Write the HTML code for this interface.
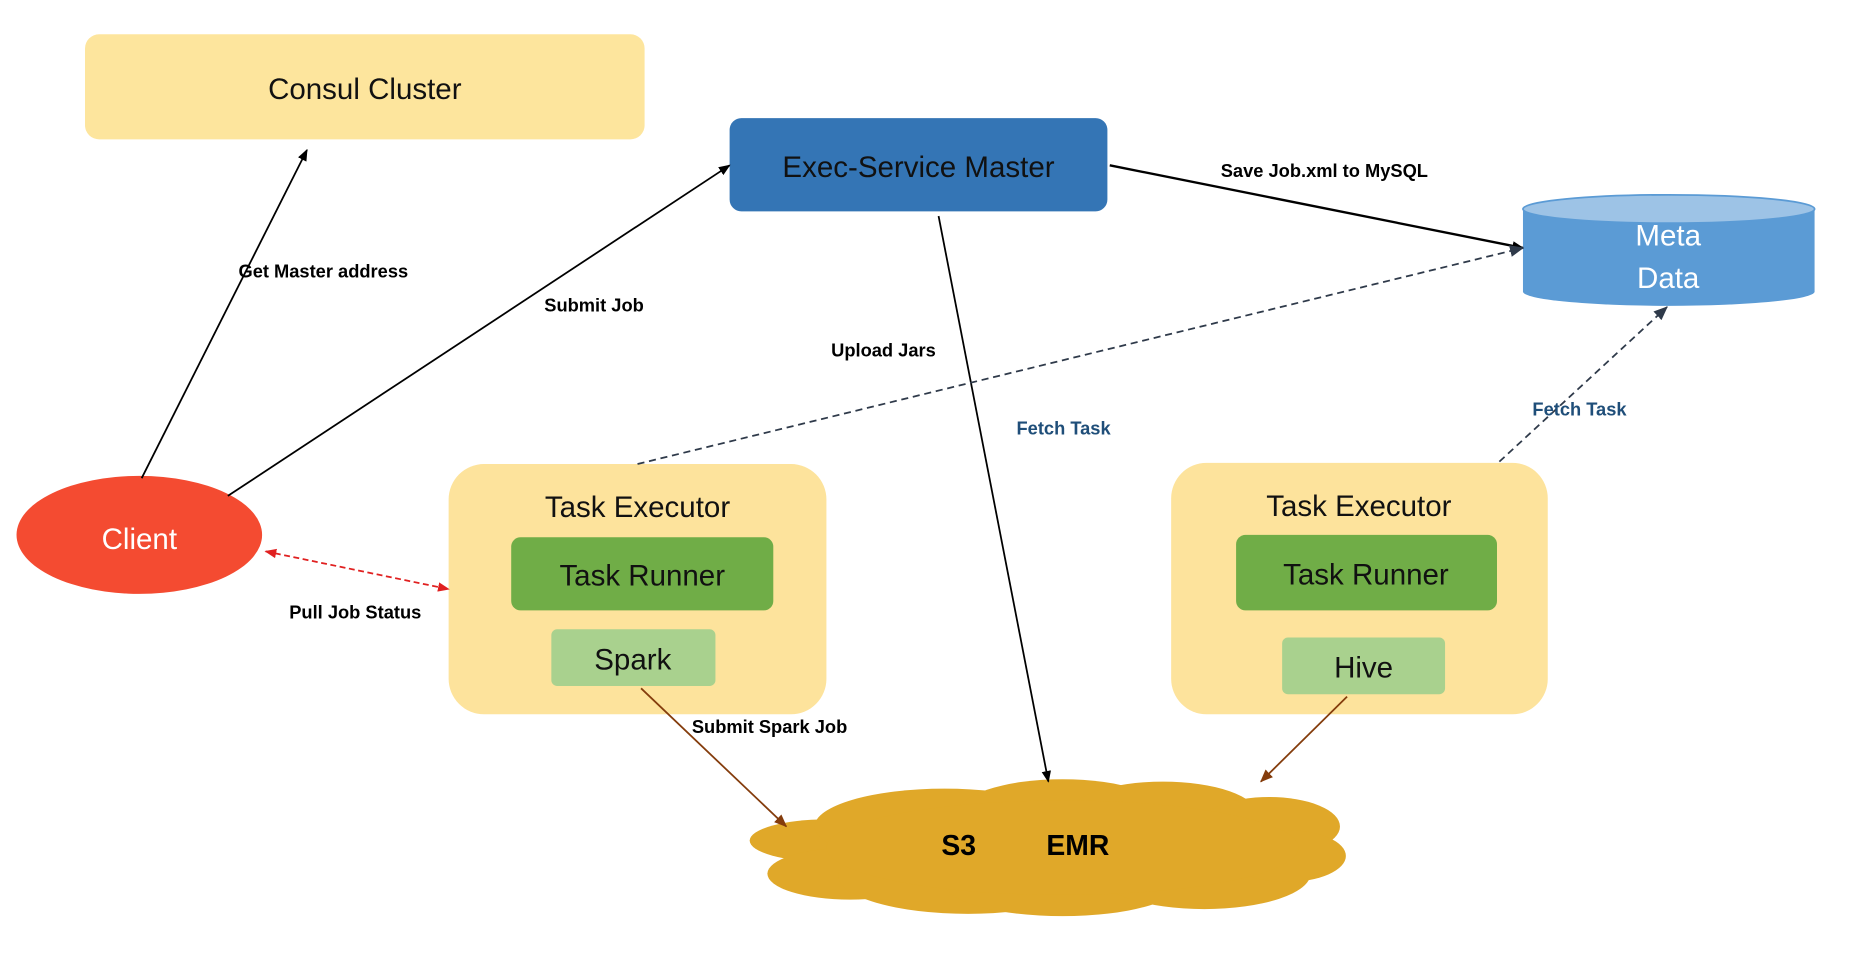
<!DOCTYPE html>
<html><head><meta charset="utf-8"><style>
html,body{margin:0;padding:0;background:#fff;width:1850px;height:954px;overflow:hidden}
svg{display:block}
text{font-family:"Liberation Sans",sans-serif}
.b{font-weight:bold;font-size:15.5px;fill:#000}
.t{font-size:25px;fill:#111;text-anchor:middle}
</style></head><body>
<svg width="1850" height="954" viewBox="0 0 1567 808" xmlns="http://www.w3.org/2000/svg">
<defs>
<marker id="ak" markerWidth="10" markerHeight="10" refX="9" refY="5" orient="auto" markerUnits="userSpaceOnUse"><path d="M0,1 L10,5 L0,9 z" fill="#000"/></marker>
<marker id="ag" markerWidth="12" markerHeight="12" refX="11" refY="6" orient="auto" markerUnits="userSpaceOnUse"><path d="M0,1 L12,6 L0,11 z" fill="#2f3a4a"/></marker>
<marker id="ar" markerWidth="10" markerHeight="10" refX="9" refY="5" orient="auto" markerUnits="userSpaceOnUse"><path d="M0,1 L10,5 L0,9 z" fill="#e02020"/></marker>
<marker id="ars" markerWidth="10" markerHeight="10" refX="1" refY="5" orient="auto" markerUnits="userSpaceOnUse"><path d="M10,1 L0,5 L10,9 z" fill="#e02020"/></marker>
<marker id="ab" markerWidth="11" markerHeight="11" refX="10" refY="5.5" orient="auto" markerUnits="userSpaceOnUse"><path d="M0,1 L11,5.5 L0,10 z" fill="#843c0c"/></marker>
</defs>

<!-- Consul -->
<rect x="72" y="29" width="474" height="89" rx="12" fill="#fde59d"/>
<text x="309" y="84" class="t">Consul Cluster</text>

<!-- Exec master -->
<rect x="618" y="100" width="320" height="79" rx="10" fill="#3475b5"/>
<text x="778" y="150" class="t">Exec-Service Master</text>

<!-- Meta Data cylinder -->
<path d="M1290,177 L1290,247 A123.5,12 0 0 0 1537,247 L1537,177 z" fill="#5b9bd5"/>
<ellipse cx="1413.5" cy="177" rx="123.5" ry="12" fill="#9dc3e6" stroke="#5b9bd5" stroke-width="1.5"/>
<text x="1413" y="208" class="t" style="fill:#fff">Meta</text>
<text x="1413" y="244" class="t" style="fill:#fff">Data</text>

<!-- Client -->
<ellipse cx="118" cy="453" rx="104" ry="50" fill="#f44b31"/>
<text x="118" y="465" class="t" style="fill:#fff">Client</text>

<!-- Task executor left -->
<rect x="380" y="393" width="320" height="212" rx="30" fill="#fde39c"/>
<text x="540" y="438" class="t">Task Executor</text>
<rect x="433" y="455" width="222" height="62" rx="8" fill="#70ad47"/>
<text x="544" y="496" class="t">Task Runner</text>
<rect x="467" y="533" width="139" height="48" rx="5" fill="#a9d18e"/>
<text x="536" y="567" class="t">Spark</text>

<!-- Task executor right -->
<rect x="992" y="392" width="319" height="213" rx="30" fill="#fde39c"/>
<text x="1151" y="437" class="t">Task Executor</text>
<rect x="1047" y="453" width="221" height="64" rx="8" fill="#70ad47"/>
<text x="1157" y="495" class="t">Task Runner</text>
<rect x="1086" y="540" width="138" height="48" rx="5" fill="#a9d18e"/>
<text x="1155" y="574" class="t">Hive</text>

<!-- Cloud -->
<g fill="#e0a829">
<ellipse cx="700" cy="712" rx="65" ry="18"/>
<ellipse cx="720" cy="740" rx="70" ry="22"/>
<ellipse cx="800" cy="700" rx="110" ry="32"/>
<ellipse cx="820" cy="742" rx="110" ry="32"/>
<ellipse cx="900" cy="690" rx="90" ry="30"/>
<ellipse cx="900" cy="748" rx="100" ry="28"/>
<ellipse cx="985" cy="690" rx="80" ry="28"/>
<ellipse cx="1020" cy="740" rx="90" ry="30"/>
<ellipse cx="1075" cy="700" rx="60" ry="25"/>
<ellipse cx="1090" cy="725" rx="50" ry="22"/>
<ellipse cx="900" cy="718" rx="200" ry="40"/>
</g>
<text x="812" y="724" style="font-size:24px;font-weight:bold;text-anchor:middle">S3</text>
<text x="913" y="724" style="font-size:24px;font-weight:bold;text-anchor:middle">EMR</text>

<!-- Connectors -->
<line x1="120" y1="405" x2="260" y2="127" stroke="#000" stroke-width="1.5" marker-end="url(#ak)"/>
<line x1="193" y1="420" x2="618" y2="140" stroke="#000" stroke-width="1.5" marker-end="url(#ak)"/>
<line x1="940" y1="140" x2="1290" y2="210" stroke="#000" stroke-width="2" marker-end="url(#ak)"/>
<line x1="795" y1="183" x2="888" y2="662" stroke="#000" stroke-width="1.5" marker-end="url(#ak)"/>
<line x1="540" y1="393" x2="1290" y2="210" stroke="#2f3a4a" stroke-width="1.5" stroke-dasharray="6,4" marker-end="url(#ag)"/>
<line x1="1270" y1="391" x2="1412" y2="260" stroke="#2f3a4a" stroke-width="1.5" stroke-dasharray="6,4" marker-end="url(#ag)"/>
<line x1="225" y1="467" x2="380" y2="499" stroke="#e02020" stroke-width="1.5" stroke-dasharray="5,3" marker-end="url(#ar)" marker-start="url(#ars)"/>
<line x1="543" y1="583" x2="666" y2="700" stroke="#843c0c" stroke-width="1.5" marker-end="url(#ab)"/>
<line x1="1141" y1="590" x2="1068" y2="662" stroke="#843c0c" stroke-width="1.5" marker-end="url(#ab)"/>

<!-- Labels -->
<text x="202" y="235" class="b">Get Master address</text>
<text x="461" y="264" class="b">Submit Job</text>
<text x="704" y="302" class="b">Upload Jars</text>
<text x="1034" y="150" class="b">Save Job.xml to MySQL</text>
<text x="861" y="368" class="b" style="fill:#1f4e79">Fetch Task</text>
<text x="1298" y="352" class="b" style="fill:#1f4e79">Fetch Task</text>
<text x="245" y="524" class="b">Pull Job Status</text>
<text x="586" y="621" class="b">Submit Spark Job</text>
</svg>
</body></html>
